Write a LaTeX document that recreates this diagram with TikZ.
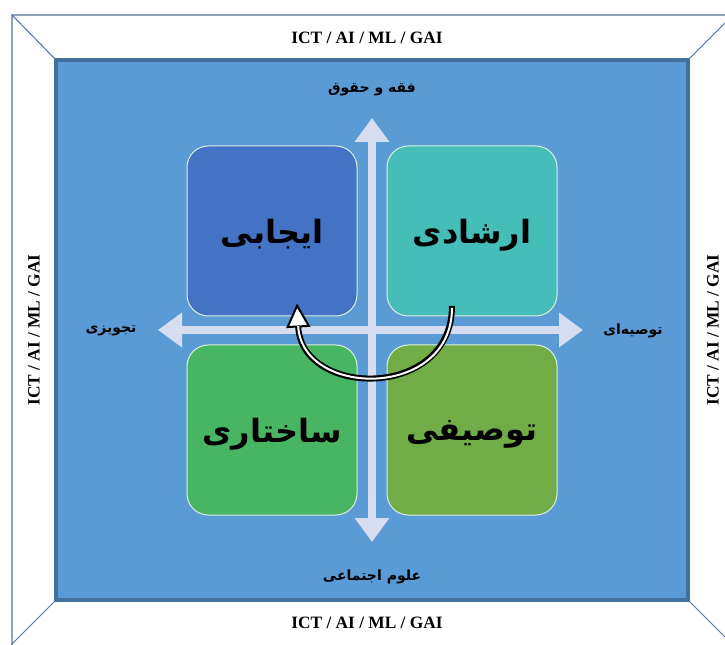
\documentclass[tikz,border=0pt]{standalone}
\usepackage{fontspec}
\setmainfont{Liberation Serif}
\newfontfamily\arabicfont[Script=Arabic]{DejaVu Sans}
\TeXXeTstate=1
\usetikzlibrary{arrows.meta}

\tikzset{
	quadrant/.style={draw={rgb, 255:red, 221; green, 240; blue, 222}, line width=0.75pt, rounded corners=16pt,
		minimum width=127.5pt, minimum height=127.5pt, inner sep=0pt, text depth=0pt,
		font=\arabicfont\bfseries\fontsize{24}{28}\selectfont},
	axislabel/.style={font=\arabicfont\bfseries\fontsize{10.5}{12}\selectfont},
	framelabel/.style={font=\bfseries\fontsize{13}{15}\selectfont},
	axisarrow/.style={draw={rgb, 255:red, 214; green, 221; blue, 241}, line width=6pt,
		{Triangle[length=18pt,width=25pt]}-{Triangle[length=18pt,width=25pt]}}}
\tikzset{every picture/.style={line width=0.75pt}}

\begin{document}
\begin{tikzpicture}[x=0.75pt,y=0.75pt,yscale=-1,xscale=1]
	\useasboundingbox (0,0) rectangle (725,645);
	\clip (0,0) rectangle (725,645);

	%Shape: Frame [outer]
	\draw  [color={rgb, 255:red, 143; green, 162; blue, 186 }, line width=1.1pt] (12,15) rectangle (733,650) ;
	\draw  [color={rgb, 255:red, 76; green, 111; blue, 170 }] (12,15) -- (56,60) ;
	\draw  [color={rgb, 255:red, 76; green, 111; blue, 170 }] (733,15) -- (688,60) ;
	\draw  [color={rgb, 255:red, 76; green, 111; blue, 170 }] (12,644) -- (56,600) ;
	\draw  [color={rgb, 255:red, 76; green, 111; blue, 170 }] (736,648) -- (688,600) ;
	%Shape: Rectangle [inner]
	\draw  [color={rgb, 255:red, 65; green, 113; blue, 156 }, line width=3pt][fill={rgb, 255:red, 91; green, 155; blue, 213 }, fill opacity=1 ] (56,60) rectangle (688,600) ;

	%Axes
	\draw  [axisarrow] (158,330) -- (583,330) ;
	\draw  [axisarrow] (372,542) -- (372,118) ;

	%Shape: Rounded Rectangles
	\node  [quadrant, fill={rgb, 255:red, 68; green, 114; blue, 196 }] (ijabi) at (272,231) {\beginR ایجابی\endR};
	\node  [quadrant, fill={rgb, 255:red, 69; green, 189; blue, 185 }] (arshadi) at (472,231) {\beginR ارشادی\endR};
	\node  [quadrant, fill={rgb, 255:red, 72; green, 181; blue, 98 }] (sakhtari) at (272,430) {\beginR ساختاری\endR};
	\node  [quadrant, fill={rgb, 255:red, 112; green, 173; blue, 71 }] (tosifi) at (472,430) {\beginR توصیفی\endR};

	%Curved Arrow
	\draw  [line width=4.5pt, -{Triangle[length=18pt,width=18pt,line width=1.5pt,fill=white]}] ([xshift=-15pt,yshift=-8pt]arshadi.south) .. controls (452,400) and (302,398) .. ([xshift=18.75pt,yshift=-9.75pt]ijabi.south) ;
	\draw  [white, line width=1.5pt, shorten <=1.5pt, shorten >=17pt] ([xshift=-15pt,yshift=-8pt]arshadi.south) .. controls (452,400) and (302,398) .. ([xshift=18.75pt,yshift=-9.75pt]ijabi.south) ;

	% Text Node
	\draw (372,90) node (fiqh) [axislabel] {\beginR فقه و حقوق\endR};
	% Text Node
	\draw (372,577) node (olum) [axislabel] {\beginR علوم اجتماعی\endR};
	% Text Node
	\draw (111,331) node (tajvizi) [axislabel] {\beginR تجویزی\endR};
	% Text Node
	\draw (633,331) node (tosieyi) [axislabel] {\beginR توصیه‌ای\endR};
	% Text Node
	\draw (367,38) node (ictTop) [framelabel] {ICT / AI / ML / GAI};
	% Text Node
	\draw (367,623) node (ictBottom) [framelabel] {ICT / AI / ML / GAI};
	% Text Node
	\draw (34,330) node (ictLeft) [framelabel, rotate=90] {ICT / AI / ML / GAI};
	% Text Node
	\draw (713,330) node (ictRight) [framelabel, rotate=90] {ICT / AI / ML / GAI};

\end{tikzpicture}
\end{document}
